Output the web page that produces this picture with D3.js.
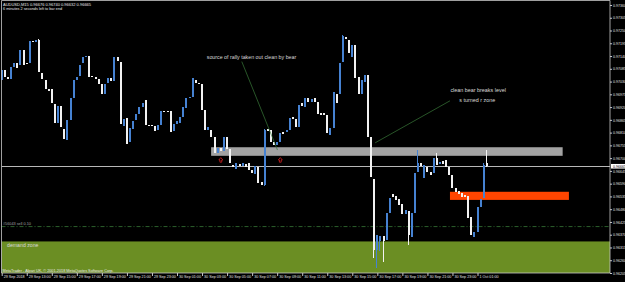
<!DOCTYPE html>
<html>
<head>
<meta charset="utf-8">
<script src="https://cdn.jsdelivr.net/npm/d3@7"></script>
<style>
  html, body { margin: 0; padding: 0; background: #000; }
  svg { display: block; font-family: "Liberation Sans", Arial, sans-serif; }
</style>
</head>
<body>
<script>
// M15 candles (open / close per bar)
const opens = [
  0.97037,0.97080,0.97050,0.97041,0.97093,0.97110,0.97101,0.97166,0.97112,0.97110,
  0.97205,0.97201,0.97209,0.97067,0.97037,0.96998,0.96998,0.96933,0.96851,0.96925,
  0.96826,0.96778,0.96864,0.96959,0.97037,0.97054,0.97110,0.97136,0.97140,0.97054,
  0.97050,0.97041,0.97019,0.96976,0.97024,0.97045,0.97032,0.97136,0.97114,0.96838,
  0.96873,0.96770,0.96826,0.96864,0.96890,0.96920,0.96951,0.96843,0.96843,0.96838,
  0.96821,0.96843,0.96903,0.96903,0.96903,0.96817,0.96847,0.96851,0.96877,0.96916,
  0.96959,0.96963,0.97037,0.97024,0.97019,0.96907,0.96821,0.96821,0.96791,0.96722,
  0.96744,0.96731,0.96791,0.96739,0.96670,0.96653,0.96675,0.96666,0.96675,0.96679,
  0.96649,0.96632,0.96662,0.96597,0.96584,0.96826,0.96821,0.96771,0.96757,0.96771,
  0.96813,0.96814,0.96821,0.96877,0.96869,0.96834,0.96938,0.96920,0.96959,0.96942,
  0.96959,0.96942,0.96895,0.96895,0.96886,0.96800,0.96830,0.96976,0.96976,0.97114,
  0.97223,0.97209,0.97136,0.97188,0.97050,0.96976,0.97028,0.97058,0.96791,0.96610,
  0.96304,0.96343,0.96364,0.96347,0.96464,0.96545,0.96537,0.96524,0.96502,0.96459,
  0.96472,0.96360,0.96464,0.96640,0.96679,0.96614,0.96662,0.96640,0.96636,0.96701,
  0.96675,0.96688,0.96692,0.96662,0.96627,0.96571,0.96558,0.96550,0.96541,0.96537,
  0.96446,0.96360,0.96382,0.96489,0.96528,0.96679
];
const closes = [
  0.97080,0.97050,0.97041,0.97093,0.97110,0.97088,0.97166,0.97101,0.97108,0.97205,
  0.97201,0.97209,0.97071,0.97041,0.96998,0.96989,0.96938,0.96851,0.96925,0.96834,
  0.96782,0.96864,0.96959,0.97037,0.97050,0.97101,0.97136,0.97140,0.97050,0.97048,
  0.97041,0.97019,0.96976,0.97019,0.97045,0.97032,0.97136,0.97119,0.96847,0.96869,
  0.96761,0.96830,0.96860,0.96890,0.96920,0.96938,0.96843,0.96838,0.96838,0.96817,
  0.96843,0.96903,0.96899,0.96899,0.96813,0.96847,0.96860,0.96877,0.96920,0.96959,
  0.96963,0.97045,0.97024,0.97019,0.96907,0.96821,0.96834,0.96791,0.96722,0.96744,
  0.96731,0.96791,0.96739,0.96679,0.96662,0.96679,0.96666,0.96679,0.96662,0.96649,
  0.96636,0.96666,0.96593,0.96584,0.96821,0.96819,0.96771,0.96757,0.96770,0.96808,
  0.96804,0.96821,0.96873,0.96869,0.96834,0.96929,0.96925,0.96959,0.96942,0.96955,
  0.96942,0.96890,0.96886,0.96886,0.96808,0.96830,0.96985,0.96938,0.97110,0.97226,
  0.97213,0.97153,0.97188,0.97045,0.96976,0.97037,0.97058,0.96791,0.96619,0.96304,
  0.96369,0.96364,0.96343,0.96464,0.96528,0.96532,0.96520,0.96498,0.96459,0.96476,
  0.96369,0.96464,0.96636,0.96679,0.96666,0.96670,0.96640,0.96627,0.96701,0.96670,
  0.96683,0.96675,0.96662,0.96627,0.96571,0.96554,0.96545,0.96532,0.96532,0.96442,
  0.96369,0.96382,0.96489,0.96524,0.96670,0.96665
];
// bars whose shadows stick out of the body: [bar, high, low]
const shadows = [
  [12, 0.97215, 0.97071], [84, 0.96826, 0.96580], [109, 0.97232, 0.97114],
  [119, 0.96610, 0.96270], [120, 0.96369, 0.96226], [121, 0.96364, 0.96300],
  [122, 0.96364, 0.96252], [130, 0.96472, 0.96326], [133, 0.96735, 0.96640],
  [139, 0.96722, 0.96670], [154, 0.96679, 0.96528], [155, 0.96735, 0.96662]
];

const priceTicks = [0.97360,0.97305,0.97250,0.97195,0.97140,0.97085,0.97030,0.96975,
  0.96920,0.96865,0.96810,0.96755,0.96700,0.96645,0.96590,0.96535,0.96480,0.96425,
  0.96370,0.96315,0.96260,0.96205];
const timeBars = [0,8,16,24,32,40,48,56,64,72,80,88,96,104,112,120,128,136,144,152];
const timeLabels = ["29 Sep 2018","29 Sep 13:00","29 Sep 15:00","29 Sep 17:00","29 Sep 19:00",
  "29 Sep 21:00","29 Sep 23:00","30 Sep 01:00","30 Sep 03:00","30 Sep 05:00","30 Sep 07:00",
  "30 Sep 09:00","30 Sep 11:00","30 Sep 13:00","30 Sep 15:00","30 Sep 17:00","30 Sep 19:00",
  "30 Sep 21:00","30 Sep 23:00","1 Oct 01:00"];

const bid = 0.96665;
const orderPrice = 0.96405;
// zones: [bar from, bar to, price low, price high]
const supplyZone = [66.9, 179.2, 0.96710, 0.96747];
const flipZone = [143.2, 181.2, 0.96520, 0.96555];
const demandZone = [-1, 200, 0.96150, 0.96341];
// arrows under the lows [bar, price]
const arrows = [[70, 0.96692], [89, 0.96692]];
// trend lines [bar1, price1, bar2, price2]
const trendLines = [[76.7, 0.97116, 88.1, 0.96735], [143.2, 0.96947, 119.3, 0.96766]];

const W = 625, H = 282;
const L = 1.5, R = 610, T = 0.5, B = 273;

const x = d3.scaleLinear().domain([0, 155]).range([1.7, 486.9]);
const y = d3.scaleLinear().domain([0.96205, 0.973815]).range([273, 0]);

const svg = d3.select("body").append("svg")
    .attr("width", W)
    .attr("height", H)
    .style("background", "#000");

svg.append("defs").append("clipPath").attr("id", "plot")
  .append("rect").attr("x", L).attr("y", T).attr("width", R - L).attr("height", B - T);

const g = svg.append("g").attr("clip-path", "url(#plot)");

function zone(z, fill) {
  g.append("rect")
      .attr("x", x(z[0])).attr("width", x(z[1]) - x(z[0]))
      .attr("y", y(z[3])).attr("height", y(z[2]) - y(z[3]))
      .attr("fill", fill);
}
zone(demandZone, "#6b8e23");
zone(supplyZone, "#a3a3a3");
zone(flipZone, "#ff4500");

// bid line
g.append("line")
    .attr("x1", L).attr("x2", R)
    .attr("y1", Math.round(y(bid)) + 0.5).attr("y2", Math.round(y(bid)) + 0.5)
    .attr("stroke", "#b8b8b8").attr("stroke-width", 1);

// order line
g.append("line")
    .attr("x1", L).attr("x2", R)
    .attr("y1", y(orderPrice)).attr("y2", y(orderPrice))
    .attr("stroke", "#3f8a3f").attr("stroke-width", 0.7)
    .attr("stroke-dasharray", "4,2,1,2");
g.append("text")
    .attr("x", 3).attr("y", y(orderPrice) - 1.5)
    .attr("fill", "#a0a0a0").attr("font-size", 3.8)
    .text("#56043 sell 0.10");

// candles
const bars = d3.range(opens.length).map(i => {
  const s = shadows.find(d => d[0] === i);
  return {
    i,
    o: opens[i], c: closes[i],
    h: s ? s[1] : Math.max(opens[i], closes[i]),
    l: s ? s[2] : Math.min(opens[i], closes[i])
  };
});

const candle = g.append("g").attr("shape-rendering", "crispEdges")
  .selectAll("g").data(bars).join("g");

candle.append("rect")
    .attr("x", d => Math.round(x(d.i)) - 1)
    .attr("width", 1)
    .attr("y", d => y(d.h))
    .attr("height", d => Math.max(1, y(d.l) - y(d.h)))
    .attr("fill", d => d.c >= d.o ? "#4682d2" : "#f2f2f2");

candle.append("rect")
    .attr("x", d => Math.round(x(d.i)) - 1)
    .attr("width", 2)
    .attr("y", d => y(Math.max(d.o, d.c)))
    .attr("height", d => Math.max(1, Math.abs(y(d.o) - y(d.c))))
    .attr("fill", d => d.c >= d.o ? "#4682d2" : "#f2f2f2");

// trend lines
g.selectAll(".tl").data(trendLines).join("line")
    .attr("x1", d => x(d[0])).attr("y1", d => y(d[1]))
    .attr("x2", d => x(d[2])).attr("y2", d => y(d[3]))
    .attr("stroke", "#3a7a3a").attr("stroke-width", 0.7);

// arrows: small hollow up-arrows
g.selectAll(".ar").data(arrows).join("path")
    .attr("transform", d => `translate(${x(d[0])},${y(d[1])})`)
    .attr("d", "M0,-2.4L2,0H0.9V2.2H-0.9V0H-2Z")
    .attr("fill", "none")
    .attr("stroke", "#d42020").attr("stroke-width", 0.8);

// text labels
const note = (t, bar, price, anchor, size) => g.append("text")
    .attr("x", x(bar)).attr("y", y(price))
    .attr("text-anchor", anchor)
    .attr("fill", "#d8d8d8").attr("font-size", size)
    .text(t);
note("source of rally taken out clean by bear", 79.8, 0.97129, "middle", 5.3);
note("clean bear breaks level", 152.2, 0.96983, "middle", 5.4);
note("s turned r zone", 151.9, 0.96942, "middle", 5.4);
note("demand zone", 1.7, 0.96315, "start", 5.2);

g.append("text").attr("x", 2.5).attr("y", 272)
    .attr("fill", "#e8e8e8").attr("font-size", 3.8)
    .text("MetaTrader - Alpari UK, \u00a9 2001-2018 MetaQuotes Software Corp.");

// header
g.append("text").attr("x", 3).attr("y", 5.5)
    .attr("fill", "#e8e8e8").attr("font-size", 4)
    .text("AUDUSD,M15  0.96676 0.96740 0.96632 0.96665");
g.append("text").attr("x", 3).attr("y", 9.6)
    .attr("fill", "#e8e8e8").attr("font-size", 3.8)
    .text("6 minutes 2 seconds left to bar end");

// frame
svg.append("path")
    .attr("d", `M${L},${B}V${T}H${R}V${B}H${L}`)
    .attr("fill", "none").attr("stroke", "#c8c8c8").attr("stroke-width", 0.8);

// price axis
const yAxis = svg.append("g")
    .attr("transform", `translate(${R},0)`)
    .call(d3.axisRight(y).tickValues(priceTicks).tickSize(2).tickPadding(1)
      .tickFormat(d3.format(".5f")));
yAxis.select(".domain").remove();
yAxis.selectAll("line").attr("stroke", "#c8c8c8");
yAxis.selectAll("text").attr("fill", "#e0e0e0").attr("font-size", 3.6)
    .attr("font-family", "Liberation Sans, Arial");

svg.append("rect")
    .attr("x", R + 1).attr("y", y(bid) - 2.3)
    .attr("width", W - R - 1).attr("height", 4.6)
    .attr("fill", "#ffffff");
svg.append("text")
    .attr("x", R + 3).attr("y", y(bid) + 1.3)
    .attr("fill", "#000").attr("font-size", 3.6)
    .text(d3.format(".5f")(bid));

// time axis
const xAxis = svg.append("g")
    .attr("transform", `translate(0,${B})`)
    .call(d3.axisBottom(x).tickValues(timeBars).tickSize(3).tickPadding(1)
      .tickFormat((d, i) => timeLabels[i]));
xAxis.select(".domain").remove();
xAxis.selectAll("line").attr("stroke", "#c8c8c8");
xAxis.selectAll("text")
    .attr("text-anchor", "start")
    .attr("x", 1.5).attr("y", 2.2).attr("dy", "0.71em")
    .attr("fill", "#e0e0e0").attr("font-size", 3.7)
    .attr("font-family", "Liberation Sans, Arial");
</script>
</body>
</html>
